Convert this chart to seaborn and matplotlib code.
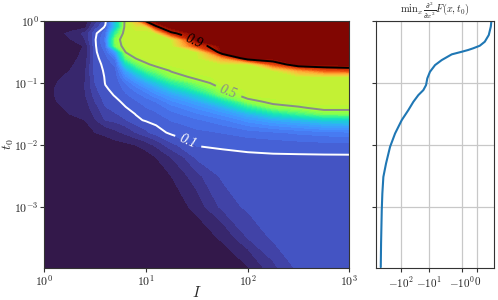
import numpy as np
import pandas as pd
import matplotlib
matplotlib.use("Agg")
import matplotlib.pyplot as plt
import seaborn as sns
from matplotlib.ticker import (FixedLocator, FixedFormatter, FuncFormatter,
                               NullLocator, LogLocator)

# ---------------- data ----------------
# grid of the map: exponents of I and t0
log_I = [0.0, 0.25, 0.4, 0.5, 0.6, 0.7, 0.8, 0.9, 1.0, 1.1, 1.25, 1.5,
         1.75, 2.0, 2.25, 2.5, 2.75, 3.0]
log_t0 = [0.0, -0.1, -0.2, -0.3, -0.4, -0.5, -0.6, -0.7, -0.8, -0.9,
          -1.0, -1.1, -1.2, -1.3, -1.4, -1.5, -1.6, -1.8, -2.0, -2.2,
          -2.5, -3.0, -3.5, -4.0]

# one profile (over t0, top to bottom) per I value
prob_by_I = [
    [0, 0, .004, .006, .003, .006, .008, .01, .01, .012, .014, .015, .015, .014, .012, .01, .008, .004, 0, 0, 0, 0, 0, 0],
    [0, .004, .025, .018, .008, .01, .013, .016, .02, .024, .028, .03, .03, .028, .024, .02, .015, .008, .003, 0, 0, 0, 0, 0],
    [.008, .015, .045, .04, .022, .025, .028, .032, .036, .038, .04, .04, .038, .034, .03, .025, .02, .012, .005, 0, 0, 0, 0, 0],
    [.05, .07, .095, .098, .097, .096, .094, .092, .088, .085, .08, .075, .068, .06, .052, .045, .038, .02, .005, 0, 0, 0, 0, 0],
    [.09, .105, .131, .145, .135, .122, .112, .106, .104, .102, .101, .098, .092, .086, .078, .07, .06, .025, .01, 0, 0, 0, 0, 0],
    [.28, .27, .38, .465, .45, .21, .148, .125, .115, .109, .106, .105, .102, .095, .088, .078, .066, .035, .012, .002, 0, 0, 0, 0],
    [.53, .54, .55, .55, .54, .505, .42, .30, .215, .175, .142, .126, .116, .106, .099, .09, .078, .045, .015, .004, 0, 0, 0, 0],
    [.66, .57, .55, .55, .55, .55, .505, .42, .305, .225, .178, .148, .13, .117, .108, .101, .095, .06, .02, .006, 0, 0, 0, 0],
    [.92, .57, .55, .55, .55, .55, .55, .485, .405, .29, .22, .175, .147, .13, .119, .109, .103, .075, .03, .01, 0, 0, 0, 0],
    [1, .88, .56, .55, .55, .55, .55, .53, .45, .37, .265, .21, .172, .141, .127, .117, .109, .09, .045, .02, .005, 0, 0, 0],
    [1, 1, .88, .56, .55, .55, .55, .55, .51, .46, .36, .265, .21, .175, .149, .133, .121, .106, .075, .04, .02, .004, 0, 0],
    [1, 1, 1, 1, .85, .56, .55, .55, .55, .53, .46, .39, .28, .22, .183, .157, .136, .115, .102, .085, .055, .03, .004, 0],
    [1, 1, 1, 1, 1, 1, .7, .56, .55, .55, .55, .505, .45, .315, .23, .187, .155, .121, .104, .094, .085, .066, .025, 0],
    [1, 1, 1, 1, 1, 1, 1, .55, .55, .55, .55, .55, .54, .47, .35, .24, .19, .13, .107, .096, .089, .086, .06, .018],
    [1, 1, 1, 1, 1, 1, 1, .82, .56, .55, .55, .55, .55, .53, .46, .32, .22, .137, .109, .097, .09, .087, .085, .055],
    [1, 1, 1, 1, 1, 1, 1, 1, .7, .56, .55, .55, .55, .55, .49, .39, .245, .145, .111, .097, .09, .088, .087, .085],
    [1, 1, 1, 1, 1, 1, 1, 1, .8, .56, .55, .55, .55, .55, .53, .45, .28, .152, .113, .097, .09, .088, .087, .086],
    [1, 1, 1, 1, 1, 1, 1, 1, .83, .56, .55, .55, .55, .55, .53, .45, .29, .156, .114, .097, .09, .088, .087, .086],
]

contour_levels = [0.1, 0.5, 0.9]
contour_texts = ["0.1", "0.5", "0.9"]

# right panel curve: min_x d2F/dx2 versus t0
curve_t0 = [1.07e-4, 2.56e-4, 8.85e-4, 1.65e-3, 3.05e-3, 5.03e-3, 9.31e-3,
            0.01534, 0.02517, 0.03648, 0.04966, 0.06376, 0.07679, 0.09247,
            0.1186, 0.1517, 0.1945, 0.2344, 0.2897, 0.3192, 0.3402, 0.3622,
            0.399, 0.4631, 0.594, 0.809, 1.0]
curve_min = [-562, -548, -517, -492, -452, -361, -258, -169, -96.7, -55.6,
             -36.5, -24.0, -15.76, -12.56, -11.29, -9.25, -6.70, -4.36, -2.25,
             -1.05, -0.574, -0.255, 0.1415, 0.4486, 0.721, 0.8718, 0.9197]

right_ticks = [-100, -10, -1, 0]
right_ticklabels = [r"$-10^{2}$", r"$-10^{1}$", r"$-10^{0}$", r"$0$"]
right_title = r"$\mathrm{min}_x\, \frac{\partial^2}{\partial x^2} F(x, t_0)$"

# ---------------- style ----------------
sns.set_style("ticks")
plt.rcParams.update({
    "font.family": ["DejaVu Serif"],
    "mathtext.fontset": "cm",
    "axes.linewidth": 0.8,
    "axes.edgecolor": "#333333",
    "xtick.color": "#333333",
    "ytick.color": "#333333",
    "xtick.labelcolor": "#222222",
    "ytick.labelcolor": "#222222",
    "xtick.major.size": 3.0,
    "ytick.major.size": 3.0,
    "xtick.major.width": 0.8,
    "ytick.major.width": 0.8,
})

I_vals = 10.0 ** np.array(log_I)
t0_vals = 10.0 ** np.array(log_t0)
Z = np.array(prob_by_I).T

fig = plt.figure(figsize=(4.98, 3.0), dpi=100)
ax1 = fig.add_axes([44.3 / 498, 32 / 300, 305 / 498, 247 / 300])
ax2 = fig.add_axes([375.5 / 498, 32 / 300, 118.5 / 498, 247 / 300], sharey=ax1)

ax1.set_xscale("log")
ax1.set_yscale("log")
ax1.set_xlim(1, 1000)
ax1.set_ylim(10 ** -3.985, 1)

dec_fmt = FuncFormatter(lambda v, p: r"$10^{%d}$" % int(round(np.log10(v))))
ax1.xaxis.set_major_locator(LogLocator(base=10, numticks=10))
ax1.yaxis.set_major_locator(LogLocator(base=10, numticks=10))
ax1.xaxis.set_major_formatter(dec_fmt)
ax1.yaxis.set_major_formatter(dec_fmt)
ax1.xaxis.set_minor_locator(NullLocator())
ax1.yaxis.set_minor_locator(NullLocator())

ax1.contourf(I_vals, t0_vals, Z, levels=np.linspace(0, 1, 51), cmap="turbo")
cs = ax1.contour(I_vals, t0_vals, Z, levels=contour_levels,
                 colors=["white", "#8a8a8a", "black"], linewidths=1.4)
labels = ax1.clabel(cs, fmt=dict(zip(contour_levels, contour_texts)),
                    fontsize=10, inline=True, inline_spacing=3,
                    manual=[(24.7, 0.0099), (64, 0.0713), (29, 0.458)])
for t in labels:
    t.set_fontfamily("Liberation Serif")
    t.set_fontstyle("italic")

ax1.grid(True, color="#b8b8b8", linewidth=0.9, alpha=0.9)
ax1.set_xlabel(r"$I$", fontsize=11)
ax1.set_ylabel(r"$t_0$", fontsize=10)
ax1.xaxis.set_label_coords(0.5, -0.068)
ax1.yaxis.set_label_coords(-0.094, 0.5)
ax1.tick_params(labelsize=8.5, pad=1)

# ---------------- right panel ----------------
sns.lineplot(x=curve_min, y=curve_t0, ax=ax2, sort=False, estimator=None,
             color="#1f77b4", linewidth=1.5)

_vals = np.array([-1e6, -1000., -100., -10., -1., 0., 1., 10., 100., 1000., 1e6])
_pos = np.array([-185.7, -103.43, -76.0, -48.6, -15.0, 0.0, 15.0, 48.6, 76.0,
                 103.43, 185.7])
_ash = np.arcsinh(_vals)


def _fwd(v):
    return np.interp(np.arcsinh(v), _ash, _pos)


def _inv(u):
    return np.sinh(np.interp(u, _pos, _ash))


ax2.set_xscale("function", functions=(_fwd, _inv))
ax2.set_xlim(-874, 1.15)
ax2.xaxis.set_major_locator(FixedLocator(right_ticks))
ax2.xaxis.set_major_formatter(FixedFormatter(right_ticklabels))
ax2.xaxis.set_minor_locator(NullLocator())
ax2.tick_params(labelleft=False, pad=2)
ax2.tick_params(axis="x", labelsize=8)
ax2.grid(True, color="#c8c8c8", linewidth=0.9)
ax2.set_xlabel("")
ax2.set_ylabel("")

# title as a bottom-anchored text just above the panel, shrunk until it fits
title = ax2.text(0.5, 1.0, right_title, transform=ax2.transAxes,
                 ha="center", va="bottom", fontsize=9.5)
renderer = fig.canvas.get_renderer()
fig_h = fig.get_size_inches()[1] * fig.dpi
size = 9.5
while title.get_window_extent(renderer).y1 > fig_h - 0.5 and size > 6:
    size -= 0.2
    title.set_fontsize(size)

fig.savefig("out.png", dpi=100)
